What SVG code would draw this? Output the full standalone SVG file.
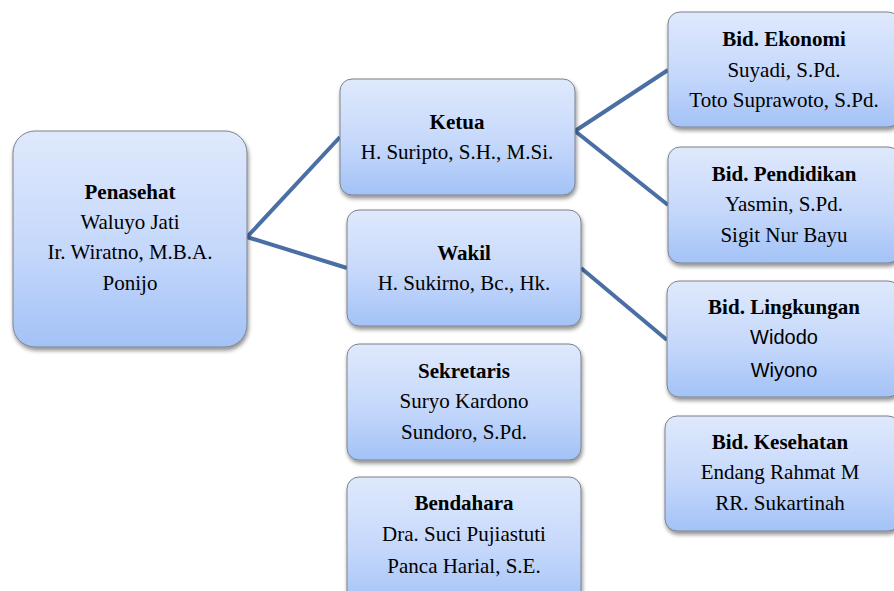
<svg xmlns="http://www.w3.org/2000/svg" width="894" height="591" viewBox="0 0 894 591">
<defs>
<linearGradient id="g" x1="0" y1="0" x2="0" y2="1">
<stop offset="0" stop-color="#dfe9fc"/>
<stop offset="0.55" stop-color="#c5d8fb"/>
<stop offset="1" stop-color="#a3c2f7"/>
</linearGradient>
<filter id="sh" x="-10%" y="-10%" width="125%" height="130%">
<feGaussianBlur in="SourceAlpha" stdDeviation="2"/>
<feOffset dx="1" dy="3" result="b"/>
<feComponentTransfer><feFuncA type="linear" slope="0.45"/></feComponentTransfer>
<feMerge><feMergeNode/><feMergeNode in="SourceGraphic"/></feMerge>
</filter>
</defs>
<style>
.box{fill:url(#g);stroke:#7c818b;stroke-width:1;filter:url(#sh)}
text{font-family:"Liberation Serif","Times New Roman",serif;font-size:21px;fill:#000;text-anchor:middle}
.b{font-weight:bold}
.s{font-family:"Liberation Sans",Arial,sans-serif;font-size:20px}
.c{fill:none;stroke:#4a6fa5;stroke-width:4}
</style>
<rect width="894" height="591" fill="#fff"/>
<g id="connectors">
<line class="c" x1="247" y1="237" x2="340" y2="137"/>
<line class="c" x1="247" y1="237" x2="347" y2="268"/>
<line class="c" x1="575" y1="131" x2="668" y2="70"/>
<line class="c" x1="575" y1="131" x2="668" y2="205"/>
<line class="c" x1="581" y1="268" x2="667" y2="340"/>
</g>
<g id="penasehat">
<rect class="box" x="13" y="131" width="234" height="216" rx="22"/>
<text class="b" x="130" y="199">Penasehat</text>
<text x="130" y="229">Waluyo Jati</text>
<text x="130" y="259">Ir. Wiratno, M.B.A.</text>
<text x="130" y="290">Ponijo</text>
</g>
<g id="ketua">
<rect class="box" x="340" y="79" width="235" height="116" rx="12"/>
<text class="b" x="457" y="129">Ketua</text>
<text x="457" y="159">H. Suripto, S.H., M.Si.</text>
</g>
<g id="wakil">
<rect class="box" x="347" y="210" width="234" height="116" rx="12"/>
<text class="b" x="464" y="260">Wakil</text>
<text x="464" y="290">H. Sukirno, Bc., Hk.</text>
</g>
<g id="sekretaris">
<rect class="box" x="347" y="344" width="234" height="116" rx="12"/>
<text class="b" x="464" y="378">Sekretaris</text>
<text x="464" y="408">Suryo Kardono</text>
<text x="464" y="439">Sundoro, S.Pd.</text>
</g>
<g id="bendahara">
<rect class="box" x="347" y="477" width="234" height="130" rx="12"/>
<text class="b" x="464" y="510">Bendahara</text>
<text x="464" y="541">Dra. Suci Pujiastuti</text>
<text x="464" y="573">Panca Harial, S.E.</text>
</g>
<g id="ekonomi">
<rect class="box" x="668" y="12" width="232" height="115" rx="12"/>
<text class="b" x="784" y="46">Bid. Ekonomi</text>
<text x="784" y="77">Suyadi, S.Pd.</text>
<text x="784" y="107">Toto Suprawoto, S.Pd.</text>
</g>
<g id="pendidikan">
<rect class="box" x="668" y="147" width="232" height="116" rx="12"/>
<text class="b" x="784" y="181">Bid. Pendidikan</text>
<text x="784" y="211">Yasmin, S.Pd.</text>
<text x="784" y="242">Sigit Nur Bayu</text>
</g>
<g id="lingkungan">
<rect class="box" x="667" y="281" width="233" height="116" rx="12"/>
<text class="b" x="784" y="314">Bid. Lingkungan</text>
<text class="s" x="784" y="344">Widodo</text>
<text class="s" x="784" y="377">Wiyono</text>
</g>
<g id="kesehatan">
<rect class="box" x="665" y="416" width="235" height="115" rx="12"/>
<text class="b" x="780" y="449">Bid. Kesehatan</text>
<text x="780" y="479">Endang Rahmat M</text>
<text x="780" y="510">RR. Sukartinah</text>
</g>
</svg>
